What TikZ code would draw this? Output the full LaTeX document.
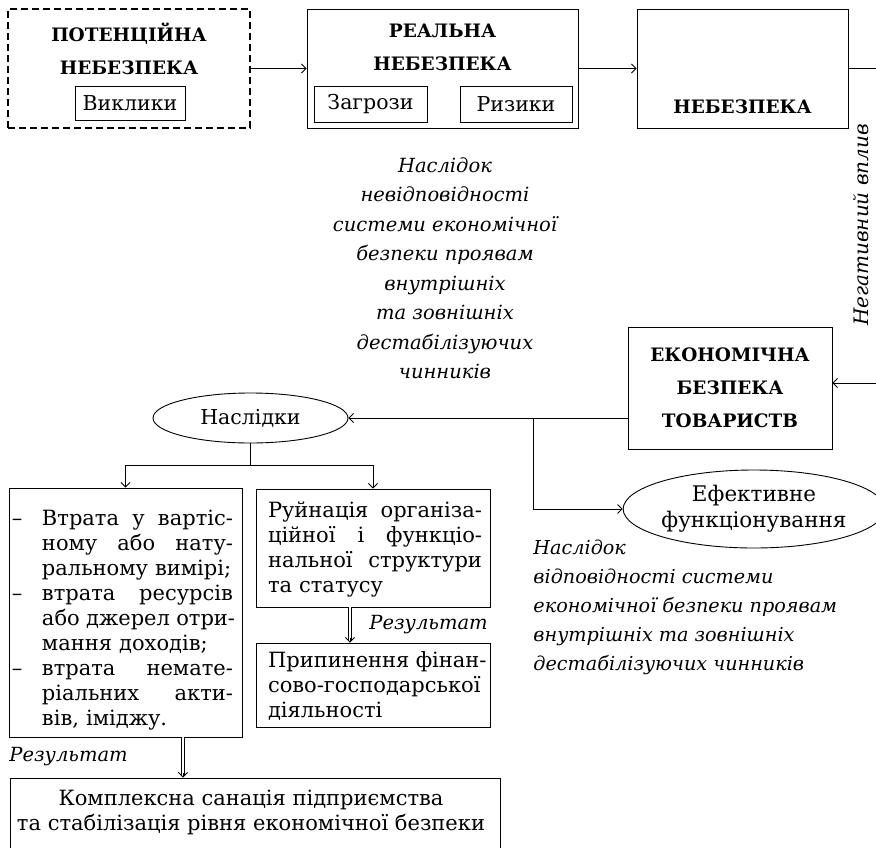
\documentclass[tikz,border=0pt]{standalone}
\usepackage{fontspec}
\setmainfont{DejaVu Serif}
\usetikzlibrary{arrows.meta,shapes.geometric}

% type sizes (1pt = 1 unit of the picture)
\newcommand\fBody{\fontsize{21}{25}\selectfont}
\newcommand\fTop{\fontsize{20.5}{24}\selectfont}
\newcommand\fEff{\fontsize{21.5}{26}\selectfont}
\newcommand\fTitle{\bfseries\fontsize{18.5}{33}\selectfont}
\newcommand\fItal{\itshape\fontsize{19.5}{27}\selectfont}
\newcommand\fItalC{\itshape\fontsize{19.5}{29.5}\selectfont}
\newcommand\fItalR{\itshape\fontsize{19.2}{29}\selectfont}
\newcommand\fSide{\itshape\fontsize{20}{26}\selectfont}

% justified lines for the text blocks: \gap is a stretchable word space
\newcommand\gap{\hskip .3em plus 1fil\relax}
\newcommand\just[1]{\leavevmode\hbox to 214pt{#1}}
\newcommand\dashjust[1]{\leavevmode\hbox to 30pt{–\hfil}\hbox to 191pt{#1}}
\newcommand\indjust[1]{\leavevmode\hspace*{30pt}\hbox to 191pt{#1}}
\newcommand\indleft[1]{\leavevmode\hspace*{30pt}#1}

\tikzset{
  box/.style={draw, rectangle, inner sep=0pt},
  dashbox/.style={draw, rectangle, inner sep=0pt, line width=2pt, dash pattern=on 7pt off 4pt},
  title/.style={inner sep=0pt, align=center, font=\fTitle},
  ell/.style={draw, ellipse, inner sep=0pt, font=\fTop, align=center},
  plain/.style={inner sep=0pt},
  arr/.style={-{Straight Barb[length=4.5pt,width=9pt]}},
  dbl/.style={double, double distance=2.4pt, line width=0.7pt},
  tip/.style={-{Straight Barb[length=4.5pt,width=9pt]}, line width=0.9pt},
}

\begin{document}
\begin{tikzpicture}[x=1pt, y=-1pt, line width=0.9pt]
\useasboundingbox (0,0) rectangle (876,847);

% ---- top row ----
\node[dashbox, minimum width=242pt, minimum height=119pt] (pot) at (129,68.5) {};
\node[title] (potT) at (129,48.5) {ПОТЕНЦІЙНА\\НЕБЕЗПЕКА};
\node[box, minimum width=110pt, minimum height=34pt, font=\fTop] (vyk) at (130,103) {Виклики};

\node[box, minimum width=271pt, minimum height=119pt] (real) at (442.5,68.5) {};
\node[title] (realT) at (442.5,47.5) {РЕАЛЬНА\\НЕБЕЗПЕКА};
\node[box, minimum width=113pt, minimum height=36pt, font=\fTop] (zag) at (370.5,104) {Загрози};
\node[box, minimum width=112pt, minimum height=36pt, font=\fTop] (ryz) at (516,104) {Ризики};

\node[box, minimum width=211pt, minimum height=119pt] (neb) at (742.5,68.5) {};
\node[title] (nebT) at (742.5,107) {НЕБЕЗПЕКА};

\draw[arr] (pot) -- (real);
\draw[arr] (real) -- (neb);

% ---- economic security box and the feedback line ----
\node[box, minimum width=204pt, minimum height=122pt] (econ) at (730,388) {};
\node[title] (econT) at (730,388) {ЕКОНОМІЧНА\\БЕЗПЕКА\\ТОВАРИСТВ};

\coordinate (rt) at (877,68.5);
\coordinate (rb) at (877,383);
\draw[arr] (neb.east) -- (rt) -- (rb) -- (rb -| econ.east);
\node[plain, rotate=90, font=\fSide] (neg) at (861,225) {Негативний вплив};

\node[plain, align=center, font=\fItalC] (cons1) at (445,268)
  {Наслідок\\невідповідності\\системи економічної\\безпеки проявам\\внутрішніх\\та зовнішніх\\дестабілізуючих\\чинників};

% ---- consequences ----
\node[ell, minimum width=195pt, minimum height=50pt] (nasl) at (250.5,418) {Наслідки};
\draw[arr] (econ.west |- nasl.east) -- (nasl.east);

\coordinate (split) at (533,418);
\node[ell, minimum width=252pt, minimum height=78pt, font=\fEff] (eff) at (754,509) {Ефективне\\функціонування};
\draw[arr] (split) |- (eff.west);

\node[plain, anchor=west, align=left, font=\fItalR] (cons2) at (533,607)
  {Наслідок\\відповідності системи\\економічної безпеки проявам\\внутрішніх та зовнішніх\\дестабілізуючих чинників};

% ---- tree below the ellipse ----
\node[box, minimum width=233pt, minimum height=249pt] (lbox) at (125.5,612.5) {};
\node[plain, text width=221pt, align=left, font=\fBody] (ltext) at (122.5,620)
  {\dashjust{Втрата\gap у\gap вартіс-}\\
   \indjust{ному\gap або\gap нату-}\\
   \indleft{ральному вимірі;}\\
   \dashjust{втрата\gap ресурсів}\\
   \indjust{або\gap джерел\gap отри-}\\
   \indleft{мання доходів;}\\
   \dashjust{втрата\gap немате-}\\
   \indjust{ріальних\gap акти-}\\
   \indleft{вів, іміджу.}};

\node[box, minimum width=234pt, minimum height=118pt] (mbox) at (373,548) {};
\node[plain, text width=214pt, align=left, font=\fBody] (mtext) at (375,549.5)
  {\just{Руйнація\gap організа-}\\
   \just{ційної\gap і\gap функціо-}\\
   \just{нальної\gap структури}\\
   та статусу};

\node[box, minimum width=234pt, minimum height=84pt] (pbox) at (373,685) {};
\node[plain, text width=214pt, align=left, font=\fBody] (ptext) at (375,686)
  {\just{Припинення\gap фінан-}\\
   сово-господарської\\
   діяльності};

\coordinate (fork) at (250.5,465);
\draw (nasl.south) -- (fork);
\draw[arr] (fork) -| (lbox.north);
\draw[arr] (fork) -| (mbox.north);

% ---- results ----
\node[box, minimum width=490pt, minimum height=110pt] (bbox) at (255,833) {};
\node[plain, align=center, font=\fBody] (btext) at (251,812.5)
  {Комплексна санація підприємства\\та стабілізація рівня економічної безпеки};

\coordinate (dm) at (350,0);
\draw[dbl] (mbox.south -| dm) -- ([yshift=3pt]pbox.north -| dm);
\draw[tip] ([yshift=5pt]pbox.north -| dm) -- (pbox.north -| dm);
\node[plain, anchor=west, font=\fItal] (res2) at (369,625) {Результат};

\coordinate (dl) at (183,0);
\draw[dbl] (lbox.south -| dl) -- ([yshift=3pt]bbox.north -| dl);
\draw[tip] ([yshift=5pt]bbox.north -| dl) -- (bbox.north -| dl);
\node[plain, anchor=west, font=\fItal] (res1) at (9,757) {Результат};
\end{tikzpicture}
\end{document}
